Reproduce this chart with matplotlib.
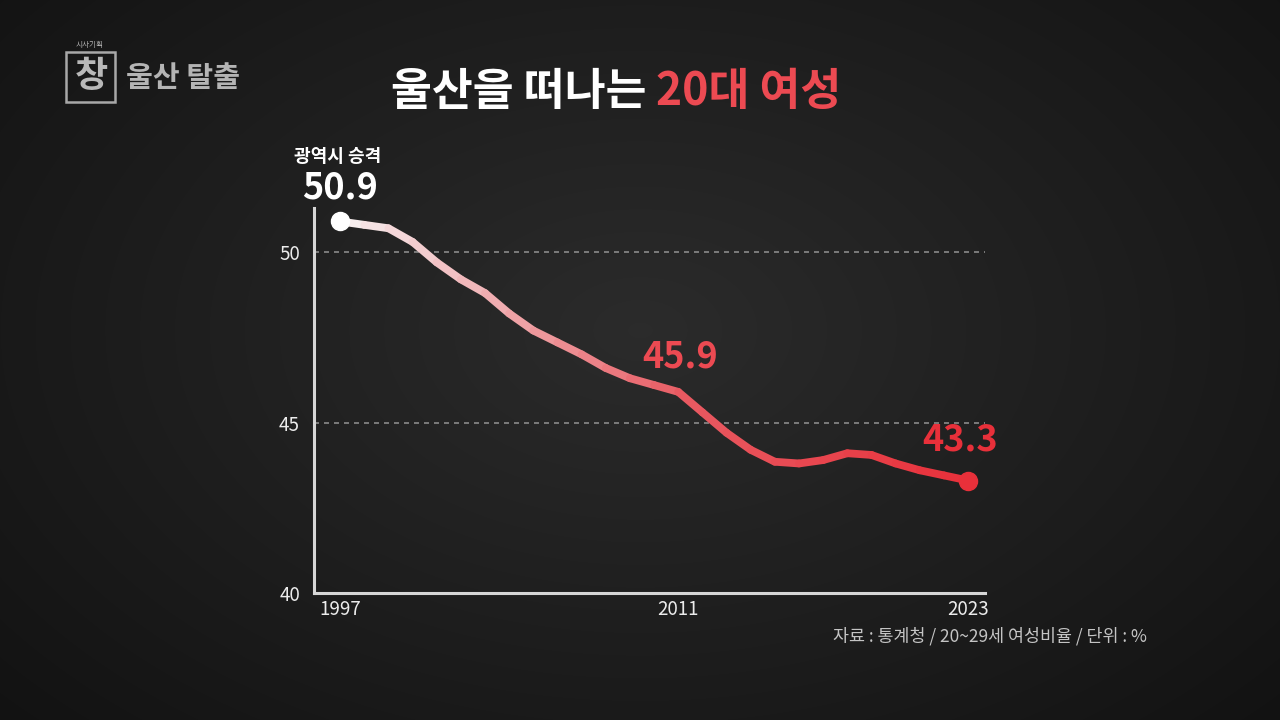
import numpy as np
import matplotlib
matplotlib.use("Agg")
import matplotlib.pyplot as plt
from matplotlib.collections import LineCollection
from matplotlib.colors import to_rgb
from matplotlib.patches import Rectangle

plt.rcParams['font.family'] = ['Noto Sans CJK KR', 'DejaVu Sans']

years = list(range(1997, 2024))
values = [50.9, 50.8, 50.7, 50.3, 49.7, 49.2, 48.8, 48.2, 47.7, 47.35, 47.0,
          46.6, 46.3, 46.1, 45.9, 45.3, 44.7, 44.2, 43.85, 43.8, 43.9, 44.1,
          44.05, 43.8, 43.6, 43.45, 43.3]
xticks = [1997, 2011, 2023]
yticks = [40, 45, 50]
title_white = "울산을 떠나는"
title_red = "20대 여성"
brand = "울산 탈출"
source = "자료 : 통계청 / 20~29세 여성비율 / 단위 : %"
note = "광역시 승격"

RED = "#e8303a"
RED_TXT = "#ec4a52"

fig = plt.figure(figsize=(12.8, 7.2), dpi=100)

# background radial gradient
bg = fig.add_axes([0, 0, 1, 1], zorder=-10)
yy, xx = np.mgrid[0:720, 0:1280]
r = np.sqrt(((xx - 640) / 800.0) ** 2 + ((yy - 330) / 520.0) ** 2)
shade = np.clip(0.17 - 0.09 * r, 0.06, 0.17)
bg.imshow(np.dstack([shade, shade, shade]), aspect='auto', extent=[0, 1, 0, 1])
bg.set_axis_off()

# main axes
ax = fig.add_axes([314 / 1280, 1 - 593 / 720, (985 - 314) / 1280, (593 - 208) / 720])
ax.set_facecolor('none')
ax.set_xlim(1995.92, 2023.7)
ax.set_ylim(40, 40 + (592 - 208) / 34.0)
for s in ['top', 'right']:
    ax.spines[s].set_visible(False)
for s in ['left', 'bottom']:
    ax.spines[s].set_color('#d6d6d6')
    ax.spines[s].set_linewidth(2.2)
ax.set_xticks(xticks)
ax.set_xticklabels([str(t) for t in xticks])
ax.set_yticks(yticks)
ax.set_yticklabels([str(t) for t in yticks])
ax.tick_params(length=0, colors='#ececec', labelsize=13.5)
ax.tick_params(axis='y', pad=10)
ax.tick_params(axis='x', pad=4)
for gy in [45, 50]:
    ax.axhline(gy, color='#8a8a8a', lw=1.2, ls=(0, (3, 3)), zorder=1)

# gradient line
pts = np.column_stack([years, values])
segs = np.stack([pts[:-1], pts[1:]], axis=1)
c0 = np.array(to_rgb('#f6f2f2'))
c1 = np.array(to_rgb('#e85a62'))
c2 = np.array(to_rgb(RED))
cols = []
n = len(segs)
for i in range(n):
    t = (i + 0.5) / n
    if t < 0.55:
        c = c0 + (c1 - c0) * (t / 0.55)
    else:
        c = c1 + (c2 - c1) * ((t - 0.55) / 0.45)
    cols.append(c)
lc = LineCollection(segs, colors=cols, linewidths=5.6, capstyle='round', joinstyle='round',
                    zorder=3, clip_on=False)
ax.add_collection(lc)
ax.plot([years[0]], [values[0]], 'o', color='white', ms=13, zorder=4, clip_on=False)
ax.plot([years[-1]], [values[-1]], 'o', color=RED, ms=13, zorder=4, clip_on=False)

# annotations
ax.annotate(note, (years[0], values[0]), xytext=(-2, 47), textcoords='offset points',
            ha='center', va='center', color='white', fontsize=13, fontweight='bold',
            annotation_clip=False)
ax.annotate(f"{values[0]}", (years[0], values[0]), xytext=(0, 24), textcoords='offset points',
            ha='center', va='center', color='white', fontsize=26, fontweight='bold',
            annotation_clip=False)
ax.annotate(f"{values[14]}", (years[14], values[14]), xytext=(1, 25), textcoords='offset points',
            ha='center', va='center', color=RED_TXT, fontsize=26, fontweight='bold')
ax.annotate(f"{values[-1]}", (years[-1], values[-1]), xytext=(-6, 29), textcoords='offset points',
            ha='center', va='center', color=RED, fontsize=26, fontweight='bold')

# title
fig.text(646 / 1280, 1 - 92 / 720, title_white, ha='right', va='center', color='white',
         fontsize=32, fontweight='bold')
fig.text(656 / 1280, 1 - 92 / 720, title_red, ha='left', va='center', color=RED_TXT,
         fontsize=32, fontweight='bold')

# brand logo
fig.patches.append(Rectangle((66 / 1280, 1 - 102 / 720), 49 / 1280, 50 / 720, transform=fig.transFigure,
                             fill=False, edgecolor='#a8a8a8', lw=1.8))
fig.text(90 / 1280, 1 - 45 / 720, "시사기획", ha='center', va='center', color='#b0b0b0', fontsize=5.5)
fig.text(91 / 1280, 1 - 76 / 720, "창", ha='center', va='center', color='#b8b8b8', fontsize=26,
         fontweight='bold', style='italic')
fig.text(126 / 1280, 1 - 78 / 720, brand, ha='left', va='center', color='#b4b4b4', fontsize=21,
         fontweight='bold')

# source
fig.text(1147 / 1280, 1 - 636 / 720, source, ha='right', va='center', color='#c4c4c4', fontsize=12.5)

fig.savefig("out.png", dpi=100, facecolor='#1a1a1a')
